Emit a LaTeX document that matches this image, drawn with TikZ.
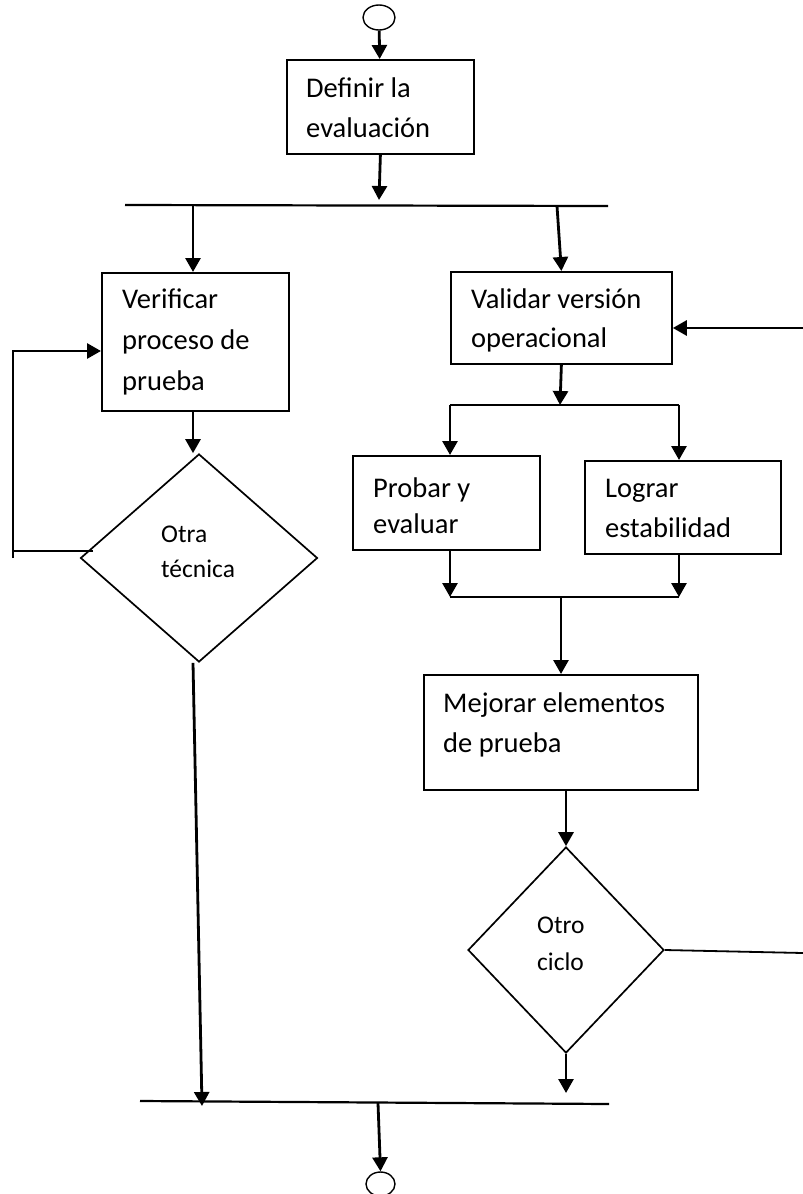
\documentclass[tikz,border=0pt]{standalone}
\usepackage{fontspec}
\setmainfont{Carlito}
\usetikzlibrary{arrows.meta,shapes.geometric}
% strut that fixes the height of a first text line
\newcommand{\firstline}[1]{\rule{0pt}{#1}}
\begin{document}
\begin{tikzpicture}[x=1pt,y=-1pt,
  box/.style={draw, line width=1.8pt, rectangle, inner sep=0pt, anchor=north west},
  decision/.style={draw, line width=1.7pt, diamond, inner sep=0pt},
  terminal/.style={draw, line width=1.4pt, ellipse, inner sep=0pt},
  flow/.style={line width=2.8pt, -{Triangle[length=14pt,width=15pt]}},
  bar/.style={line width=2.2pt},
  plain/.style={line width=1.8pt},
  txt/.style={anchor=north west, inner sep=0pt, align=left, font=\fontsize{28.5}{40}\selectfont},
  dtxt/.style={anchor=north west, inner sep=0pt, align=left, font=\fontsize{25.5}{36}\selectfont}]

\useasboundingbox (0,0) rectangle (803,1194);

% terminals
\node[terminal, minimum width=32pt, minimum height=25pt] (start) at (379,17.5) {};
\node[terminal, minimum width=29pt, minimum height=24pt] (stop) at (380.5,1184) {};

% process boxes
\node[box, minimum width=187pt, minimum height=94pt] (def) at (286,59) {};
\node[box, minimum width=187pt, minimum height=138pt] (ver) at (101,272) {};
\node[box, minimum width=221pt, minimum height=92pt] (val) at (450,271) {};
\node[box, minimum width=187pt, minimum height=94pt] (pro) at (352,455) {};
\node[box, minimum width=196pt, minimum height=93pt] (log) at (584,460) {};
\node[box, minimum width=274pt, minimum height=115pt] (mej) at (423,674) {};

% decisions
\node[decision, minimum width=237pt, minimum height=208pt] (tec) at (199,558) {};
\node[decision, minimum width=196pt, minimum height=206pt] (cic) at (566,950) {};

% texts
\node[txt] (tdef) at (306,75) {\firstline{22pt}Definir la\\evaluación};
\node[txt, font=\fontsize{28.5}{41}\selectfont] (tver) at (122,286) {\firstline{22pt}Verificar\\proceso de\\prueba};
\node[txt, font=\fontsize{28.5}{39}\selectfont] (tval) at (471,286) {\firstline{22pt}Validar versión\\operacional};
\node[txt, font=\fontsize{28.5}{36}\selectfont] (tpro) at (373,475) {\firstline{22pt}Probar y\\evaluar};
\node[txt] (tlog) at (605,475) {\firstline{22pt}Lograr\\estabilidad};
\node[txt] (tmej) at (443,690) {\firstline{22pt}Mejorar elementos\\de prueba};
\node[dtxt, font=\fontsize{25.5}{35}\selectfont] (ttec) at (161,522) {\firstline{20pt}Otra\\técnica};
\node[dtxt, font=\fontsize{25.5}{37}\selectfont] (tcic) at (537,913) {\firstline{20pt}Otro\\ciclo};

% junction bars
\coordinate (b1w) at (125,205);
\coordinate (b1e) at (608,206);
\coordinate (b1m) at (379,200);
\coordinate (b1a) at (193,205);
\coordinate (b1b) at (557,206);
\coordinate (b2w) at (450,405);
\coordinate (b2e) at (679,405);
\coordinate (b2m) at (560,405);
\coordinate (b3w) at (450,597);
\coordinate (b3e) at (679,597);
\coordinate (b3m) at (561,597);
\coordinate (b4w) at (140,1101);
\coordinate (b4e) at (609,1104);
\coordinate (b4a) at (202,1106);
\coordinate (b4b) at (566,1093);
\coordinate (b4m) at (378,1103);

\draw[bar] (b1w) -- (b1e);
\draw[bar] (b2w) -- (b2e);
\draw[bar] (b3w) -- (b3e);
\draw[bar] (b4w) -- (b4e);

% main flow
\draw[flow] (start) -- (def);
\draw[flow] (def.south) -- (b1m);
\draw[flow] (b1a) -- (b1a |- ver.north);
\draw[flow] (b1b) -- (val.north);
\draw[flow] (val.south) -- (b2m);
\draw[flow] (b2w) -- (b2w |- pro.north);
\draw[flow] (b2e) -- (b2e |- log.north);
\draw[flow] (b3w |- pro.south) -- (b3w);
\draw[flow] (b3e |- log.south) -- (b3e);
\draw[flow] (b3m) -- (b3m |- mej.north);
\draw[flow] (cic.north |- mej.south) -- (cic.north);
\draw[flow] (cic.south) -- (b4b);
\draw[flow] (ver.south -| b1a) -- (tec.north -| b1a);
\draw[flow] ([xshift=-6pt]tec.south) -- (b4a);
\draw[flow] (b4m) -- (stop.north);

% return paths
\coordinate (fbin) at (803,328);
\draw[flow] (fbin) -- (fbin -| val.east);
\coordinate (cyout) at (803,953);
\draw[plain] (cic.east) -- (cyout);
\coordinate (lp1) at (93,551);
\coordinate (lp2) at (13,551);
\coordinate (lp3) at (13,558);
\coordinate (lp4) at (13,351);
\draw[line width=2.8pt] (lp1) -- (lp2);
\draw[flow] (lp3) -- (lp4) -- (lp4 -| ver.west);
\end{tikzpicture}
\end{document}
